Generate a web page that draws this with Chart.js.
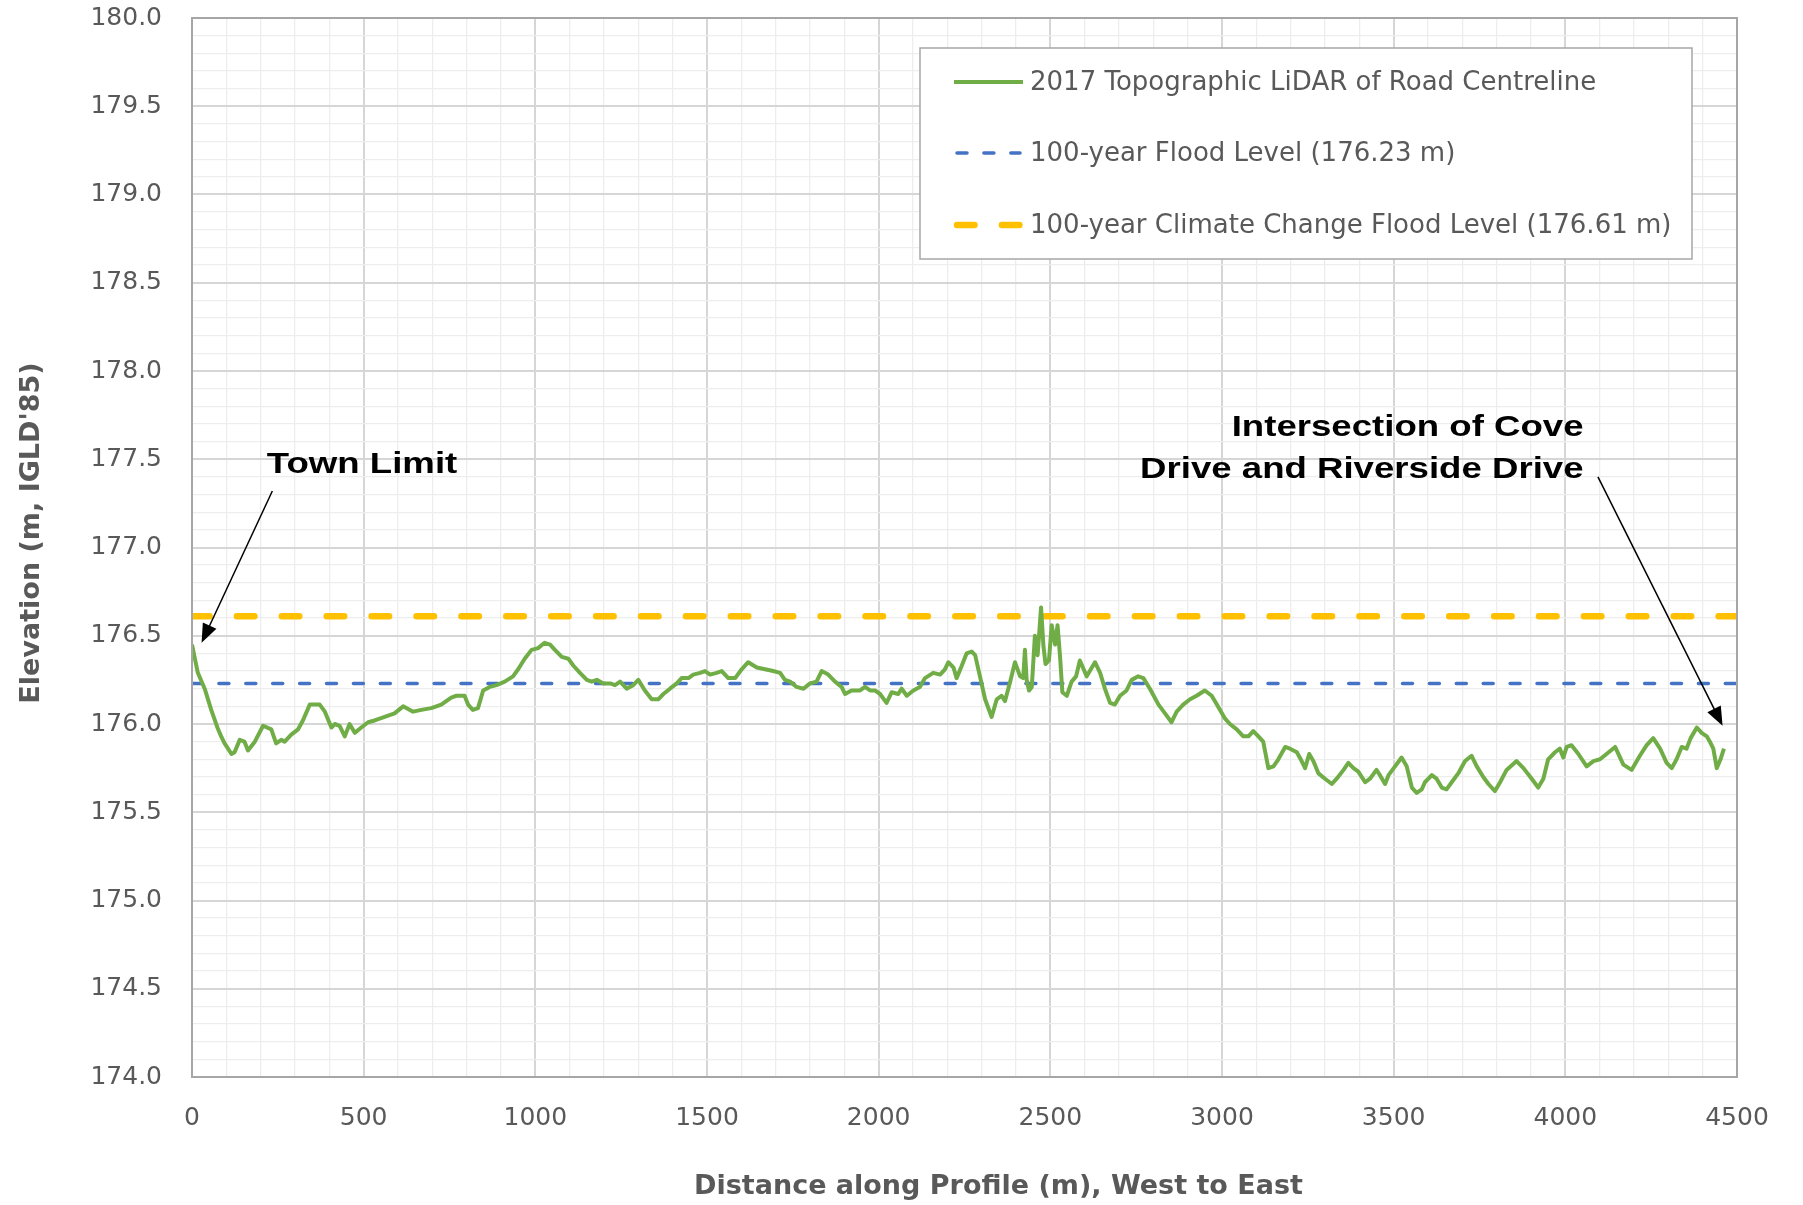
<!DOCTYPE html>
<html>
<head>
<meta charset="utf-8">
<script src="https://cdn.jsdelivr.net/npm/chart.js@4.4.1/dist/chart.umd.min.js"></script>
<style>
  html, body { margin: 0; padding: 0; background: #ffffff; }
  #wrap { width: 1803px; height: 1205px; }
</style>
</head>
<body>
<div id="wrap"><canvas id="profileChart" width="1803" height="1205"></canvas></div>
<script>
// distance along profile (m) and road centreline elevation (m, IGLD'85)
var distances = [0, 17, 37, 56, 76, 85, 95, 115, 124, 139, 153, 163, 183, 207, 231, 245, 260, 270, 289, 309,
    323, 343, 372, 387, 406, 416, 430, 445, 459, 474, 493, 513, 532, 561, 590, 615, 644, 668, 697, 726,
    755, 770, 794, 804, 818, 833, 848, 867, 887, 911, 935, 950, 969, 989, 1008, 1027, 1043, 1057, 1077, 1096,
    1111, 1130, 1150, 1164, 1179, 1198, 1218, 1232, 1247, 1266, 1285, 1300, 1319, 1339, 1358, 1373, 1392, 1412, 1426, 1446,
    1460, 1480, 1494, 1509, 1528, 1543, 1562, 1582, 1601, 1620, 1645, 1669, 1693, 1713, 1727, 1742, 1761, 1781, 1800, 1819,
    1834, 1853, 1873, 1892, 1902, 1921, 1946, 1960, 1975, 1989, 2004, 2023, 2038, 2057, 2067, 2082, 2101, 2120, 2135, 2159,
    2179, 2193, 2203, 2218, 2227, 2242, 2256, 2271, 2281, 2295, 2310, 2329, 2344, 2358, 2368, 2383, 2397, 2412, 2421, 2426,
    2431, 2438, 2446, 2455, 2463, 2473, 2480, 2486, 2496, 2504, 2514, 2521, 2528, 2535, 2548, 2562, 2575, 2586, 2606, 2630,
    2645, 2659, 2674, 2688, 2703, 2722, 2737, 2756, 2771, 2790, 2815, 2834, 2853, 2868, 2887, 2907, 2926, 2950, 2970, 2985,
    3009, 3023, 3043, 3062, 3077, 3091, 3106, 3120, 3135, 3150, 3164, 3184, 3198, 3218, 3232, 3242, 3254, 3266, 3281, 3300,
    3320, 3334, 3354, 3368, 3383, 3397, 3417, 3431, 3450, 3460, 3475, 3485, 3504, 3523, 3538, 3553, 3567, 3582, 3591, 3611,
    3625, 3640, 3654, 3669, 3688, 3708, 3727, 3742, 3761, 3776, 3795, 3810, 3829, 3858, 3878, 3902, 3921, 3936, 3950, 3970,
    3984, 3994, 4004, 4018, 4038, 4062, 4082, 4101, 4120, 4145, 4169, 4193, 4217, 4237, 4256, 4276, 4295, 4310, 4324, 4339,
    4353, 4365, 4383, 4397, 4412, 4421, 4431, 4441, 4452, 4462];
var elevations = [176.45, 176.29, 176.20, 176.08, 175.97, 175.93, 175.89, 175.83, 175.84, 175.91, 175.90, 175.85, 175.90, 175.99, 175.97, 175.89, 175.91, 175.90, 175.94, 175.97,
    176.02, 176.11, 176.11, 176.07, 175.98, 176.00, 175.99, 175.93, 176.00, 175.95, 175.98, 176.01, 176.02, 176.04, 176.06, 176.10, 176.07, 176.08, 176.09, 176.11,
    176.15, 176.16, 176.16, 176.11, 176.08, 176.09, 176.19, 176.21, 176.22, 176.24, 176.27, 176.31, 176.37, 176.42, 176.43, 176.46, 176.45, 176.42, 176.38, 176.37,
    176.33, 176.29, 176.25, 176.24, 176.25, 176.23, 176.23, 176.22, 176.24, 176.20, 176.22, 176.25, 176.19, 176.14, 176.14, 176.17, 176.20, 176.23, 176.26, 176.26,
    176.28, 176.29, 176.30, 176.28, 176.29, 176.30, 176.26, 176.26, 176.31, 176.35, 176.32, 176.31, 176.30, 176.29, 176.25, 176.24, 176.21, 176.20, 176.23, 176.24,
    176.30, 176.28, 176.24, 176.21, 176.17, 176.19, 176.19, 176.21, 176.19, 176.19, 176.17, 176.12, 176.18, 176.17, 176.20, 176.16, 176.19, 176.21, 176.26, 176.29,
    176.28, 176.31, 176.35, 176.32, 176.26, 176.33, 176.40, 176.41, 176.39, 176.27, 176.14, 176.04, 176.14, 176.16, 176.13, 176.24, 176.35, 176.27, 176.26, 176.42,
    176.25, 176.19, 176.21, 176.50, 176.39, 176.66, 176.44, 176.34, 176.36, 176.56, 176.45, 176.56, 176.39, 176.18, 176.16, 176.24, 176.27, 176.36, 176.27, 176.35,
    176.29, 176.20, 176.12, 176.11, 176.16, 176.19, 176.25, 176.27, 176.26, 176.20, 176.11, 176.06, 176.01, 176.07, 176.11, 176.14, 176.16, 176.19, 176.16, 176.11,
    176.03, 176.00, 175.97, 175.93, 175.93, 175.96, 175.93, 175.90, 175.75, 175.76, 175.80, 175.87, 175.86, 175.84, 175.79, 175.75, 175.83, 175.79, 175.72, 175.69,
    175.66, 175.69, 175.74, 175.78, 175.75, 175.73, 175.67, 175.69, 175.74, 175.71, 175.66, 175.71, 175.76, 175.81, 175.76, 175.64, 175.61, 175.63, 175.67, 175.71,
    175.69, 175.64, 175.63, 175.67, 175.72, 175.79, 175.82, 175.76, 175.70, 175.66, 175.62, 175.67, 175.74, 175.79, 175.75, 175.69, 175.64, 175.69, 175.80, 175.84,
    175.86, 175.81, 175.87, 175.88, 175.83, 175.76, 175.79, 175.80, 175.83, 175.87, 175.77, 175.74, 175.82, 175.88, 175.92, 175.86, 175.78, 175.75, 175.80, 175.87,
    175.86, 175.92, 175.98, 175.95, 175.93, 175.90, 175.86, 175.75, 175.80, 175.86];

var levelExtent = [0, 4500];
var floodLevel = 176.23;
var climateFloodLevel = 176.61;

var seriesNames = [
    '2017 Topographic LiDAR of Road Centreline',
    '100-year Flood Level (176.23 m)',
    '100-year Climate Change Flood Level (176.61 m)'
];
var xTitle = 'Distance along Profile (m), West to East';
var yTitle = "Elevation (m, IGLD'85)";

var FONT = "'DejaVu Sans', 'Liberation Sans', sans-serif";
var GREY_TEXT = '#595959';

// callout labels, placed in data units
var notes = [
    { lines: ['Town Limit'], align: 'left', x: 218, y: [177.47], from: [234, 177.32], to: [28, 176.46] },
    { lines: ['Intersection of Cove', 'Drive and Riverside Drive'], align: 'right', x: 4053, y: [177.68, 177.44], from: [4095, 177.40], to: [4458, 175.99] }
];

function toPoints(xs, ys) {
    return xs.map(function(x, i) { return { x: x, y: ys[i] }; });
}

function isMajorX(v) { return Math.round(v) % 500 === 0; }
function isMajorY(v) { return Math.round(v * 10) % 5 === 0; }

function drawArrow(ctx, x1, y1, x2, y2) {
    var ang = Math.atan2(y2 - y1, x2 - x1);
    var head = 19, half = 7.5;
    ctx.beginPath();
    ctx.moveTo(x1, y1);
    ctx.lineTo(x2 - Math.cos(ang) * head * 0.8, y2 - Math.sin(ang) * head * 0.8);
    ctx.stroke();
    ctx.beginPath();
    ctx.moveTo(x2, y2);
    ctx.lineTo(x2 - head * Math.cos(ang) + half * Math.sin(ang), y2 - head * Math.sin(ang) - half * Math.cos(ang));
    ctx.lineTo(x2 - head * Math.cos(ang) - half * Math.sin(ang), y2 - head * Math.sin(ang) + half * Math.cos(ang));
    ctx.closePath();
    ctx.fill();
}

var overlay = {
    id: 'overlay',
    afterDatasetsDraw: function(chart) {
        var ctx = chart.ctx, a = chart.chartArea;
        var xs = chart.scales.x, ys = chart.scales.y;
        ctx.save();

        // plot area frame
        ctx.strokeStyle = '#a6a6a6';
        ctx.lineWidth = 2;
        ctx.strokeRect(a.left, a.top, a.width, a.height);

        // axis titles (x one sits a bit right of centre in the original)
        ctx.fillStyle = GREY_TEXT;
        ctx.font = 'bold 27px ' + FONT;
        ctx.textAlign = 'center';
        ctx.textBaseline = 'middle';
        ctx.fillText(xTitle, a.left + a.width * 0.522, 1187);
        ctx.save();
        ctx.translate(32, 533);
        ctx.rotate(-Math.PI / 2);
        ctx.fillText(yTitle, 0, 0);
        ctx.restore();

        // legend box
        var bl = 920, bt = 48, br = 1692, bb = 259;
        ctx.fillStyle = '#ffffff';
        ctx.fillRect(bl, bt, br - bl, bb - bt);
        ctx.strokeStyle = '#a6a6a6';
        ctx.lineWidth = 1.5;
        ctx.strokeRect(bl, bt, br - bl, bb - bt);
        var rows = [82, 153, 225];
        chart.data.datasets.forEach(function(ds, i) {
            ctx.save();
            ctx.strokeStyle = ds.borderColor;
            ctx.lineWidth = ds.borderWidth;
            ctx.lineCap = ds.borderCapStyle || 'butt';
            ctx.setLineDash(ds.borderDash || []);
            ctx.beginPath();
            ctx.moveTo(i === 0 ? 954 : 957, rows[i]);
            ctx.lineTo(i === 0 ? 1023 : 1020, rows[i]);
            ctx.stroke();
            ctx.restore();
            ctx.fillStyle = GREY_TEXT;
            ctx.font = '26px ' + FONT;
            ctx.textAlign = 'left';
            ctx.textBaseline = 'middle';
            ctx.fillText(ds.label, 1030, rows[i] + 1);
        });

        // callouts
        ctx.fillStyle = '#000000';
        ctx.strokeStyle = '#000000';
        ctx.lineWidth = 1.5;
        ctx.font = 'bold 30px ' + "'Liberation Sans', Arial, sans-serif";
        ctx.textBaseline = 'middle';
        notes.forEach(function(n) {
            var px = xs.getPixelForValue(n.x);
            n.lines.forEach(function(t, k) {
                ctx.save();
                ctx.translate(px, ys.getPixelForValue(n.y[k]));
                ctx.scale(1.22, 1);
                ctx.textAlign = n.align;
                ctx.fillText(t, 0, 0);
                ctx.restore();
            });
            drawArrow(ctx, xs.getPixelForValue(n.from[0]), ys.getPixelForValue(n.from[1]),
                xs.getPixelForValue(n.to[0]), ys.getPixelForValue(n.to[1]));
        });
        ctx.restore();
    }
};

var config = {
    type: 'line',
    data: {
        datasets: [{
            label: seriesNames[0],
            data: toPoints(distances, elevations),
            borderColor: '#70ad47',
            borderWidth: 4,
            borderJoinStyle: 'round',
            pointRadius: 0,
            tension: 0
        }, {
            label: seriesNames[1],
            data: toPoints(levelExtent, [floodLevel, floodLevel]),
            borderColor: '#4472c4',
            borderWidth: 3.5,
            borderDash: [10, 16.9],
            borderCapStyle: 'round',
            pointRadius: 0
        }, {
            label: seriesNames[2],
            data: toPoints(levelExtent, [climateFloodLevel, climateFloodLevel]),
            borderColor: '#ffc000',
            borderWidth: 6.5,
            borderDash: [17.5, 27.4],
            borderCapStyle: 'round',
            pointRadius: 0
        }]
    },
    options: {
        responsive: false,
        devicePixelRatio: 1,
        animation: false,
        layout: { padding: { left: 0, top: 18, right: 66, bottom: 0 } },
        plugins: {
            legend: { display: false },
            tooltip: { enabled: false }
        },
        scales: {
            x: {
                type: 'linear',
                min: 0,
                max: 4500,
                afterFit: function(s) { s.height = 128; s.paddingLeft = 0; s.paddingRight = 0; },
                ticks: {
                    stepSize: 100,
                    maxTicksLimit: 100,
                    autoSkip: false,
                    maxRotation: 0,
                    padding: 26,
                    color: GREY_TEXT,
                    font: { family: FONT, size: 25 },
                    callback: function(v) { return isMajorX(v) ? String(v) : ''; }
                },
                grid: {
                    drawTicks: false,
                    color: function(c) { return isMajorX(c.tick.value) ? '#d6d6d6' : '#ededed'; },
                    lineWidth: function(c) { return isMajorX(c.tick.value) ? 2 : 1.3; }
                },
                border: { color: '#a6a6a6', width: 2 },
                title: { display: false }
            },
            y: {
                min: 174,
                max: 180,
                afterFit: function(s) { s.width = 192; s.paddingTop = 0; s.paddingBottom = 0; },
                ticks: {
                    stepSize: 0.1,
                    maxTicksLimit: 100,
                    autoSkip: false,
                    padding: 30,
                    color: GREY_TEXT,
                    font: { family: FONT, size: 25 },
                    callback: function(v) { return isMajorY(v) ? v.toFixed(1) : ''; }
                },
                grid: {
                    drawTicks: false,
                    color: function(c) { return isMajorY(c.tick.value) ? '#d6d6d6' : '#ededed'; },
                    lineWidth: function(c) { return isMajorY(c.tick.value) ? 2 : 1.3; }
                },
                border: { color: '#a6a6a6', width: 2 },
                title: { display: false }
            }
        }
    },
    plugins: [overlay]
};

var profileChart = new Chart(document.getElementById('profileChart'), config);
</script>
</body>
</html>
